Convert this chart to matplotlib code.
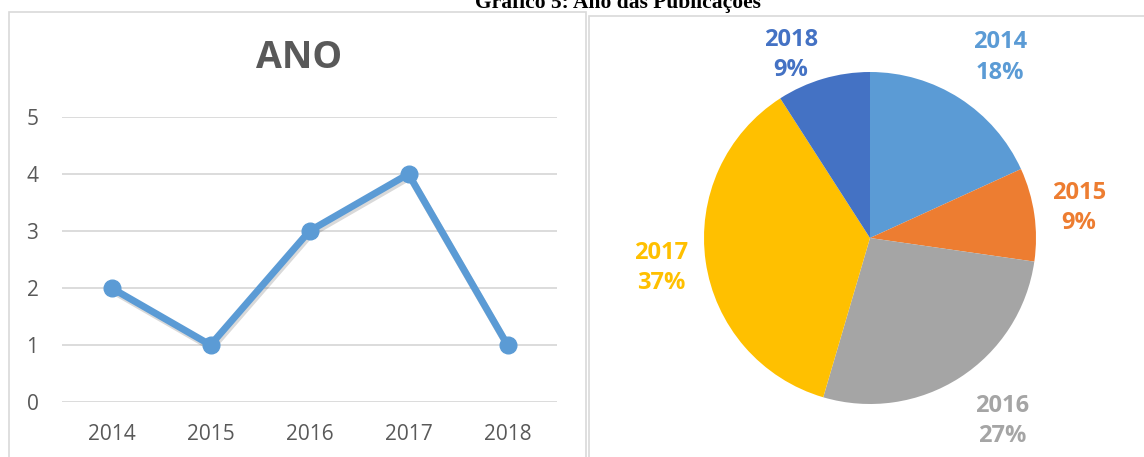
import numpy as np
import matplotlib
matplotlib.use("Agg")
import matplotlib.pyplot as plt
from matplotlib.patches import Rectangle
import matplotlib.patheffects as pe

plt.rcParams['font.family'] = ['Open Sans', 'DejaVu Sans']

years = ['2014', '2015', '2016', '2017', '2018']
counts = [2, 1, 3, 4, 1]
pct_labels = ['18%', '9%', '27%', '37%', '9%']
pie_colors = ['#5B9BD5', '#ED7D31', '#A5A5A5', '#FFC000', '#4472C4']
# how far out each pie label sits (in pie radii)
label_dist = [1.34, 1.27, 1.36, 1.27, 1.2]
label_shift = [-3, 0, 3, 0, 7]   # degrees, to mimic Excel's best fit

W, H = 1144, 457
fig = plt.figure(figsize=(W / 100, H / 100), dpi=100)

# panel frames
fig.add_artist(Rectangle((9 / W, -0.1), (586 - 9) / W, 1 - 12 / H + 0.1,
                         transform=fig.transFigure, fill=False,
                         edgecolor='#D9D9D9', lw=1.2))
fig.add_artist(Rectangle((589 / W, -0.1), 0.6, 1 - 16 / H + 0.1,
                         transform=fig.transFigure, fill=False,
                         edgecolor='#D9D9D9', lw=1.2))

fig.text(0.54, 1 - 8 / H, 'Gráfico 5: Ano das Publicações',
         ha='center', va='baseline', fontsize=15.5, fontweight='bold',
         family='Liberation Serif')

# line chart
ax = fig.add_axes([62 / W, 1 - 402 / H, (557 - 62) / W, (402 - 117) / H])
x = np.arange(len(years))
ax.plot(x, counts, color='#5B9BD5', lw=5, solid_capstyle='round',
        path_effects=[pe.SimpleLineShadow(offset=(1, -2), alpha=0.15),
                      pe.Normal()])
ax.plot(x, counts, ls='none', marker='o', markersize=12,
        color='#5B9BD5')
ax.set_xlim(-0.5, len(years) - 0.5)
ax.set_ylim(0, 5)
ax.set_yticks(range(6))
ax.set_xticks(x)
ax.set_xticklabels(years)
ax.grid(axis='y', color='#D9D9D9', lw=1.3)
ax.set_axisbelow(True)
for s in ax.spines.values():
    s.set_visible(False)
ax.tick_params(length=0, labelsize=15, colors='#595959')
ax.tick_params(axis='x', pad=16)
ax.tick_params(axis='y', pad=17)
fig.text(299 / W, 1 - 58 / H, 'ANO', ha='center', va='center',
         fontsize=27, fontweight='bold', color='#595959')

# pie chart
cx, cy, r = 870, 238, 166
pax = fig.add_axes([(cx - r) / W, 1 - (cy + r) / H, 2 * r / W, 2 * r / H])
wedges, _ = pax.pie(counts, colors=pie_colors, startangle=90,
                    counterclock=False, radius=1)
pax.set_xlim(-1, 1)
pax.set_ylim(-1, 1)
pax.set_aspect('equal')
for w, yr, p, c, d, sh in zip(wedges, years, pct_labels, pie_colors,
                              label_dist, label_shift):
    ang = np.deg2rad((w.theta1 + w.theta2) / 2 + sh)
    pax.text(d * np.cos(ang), d * np.sin(ang), f'{yr}\n{p}', ha='center',
             va='center', color=c, fontsize=17, fontweight='bold',
             linespacing=1.35, clip_on=False)

fig.savefig('out.png', dpi=100)
